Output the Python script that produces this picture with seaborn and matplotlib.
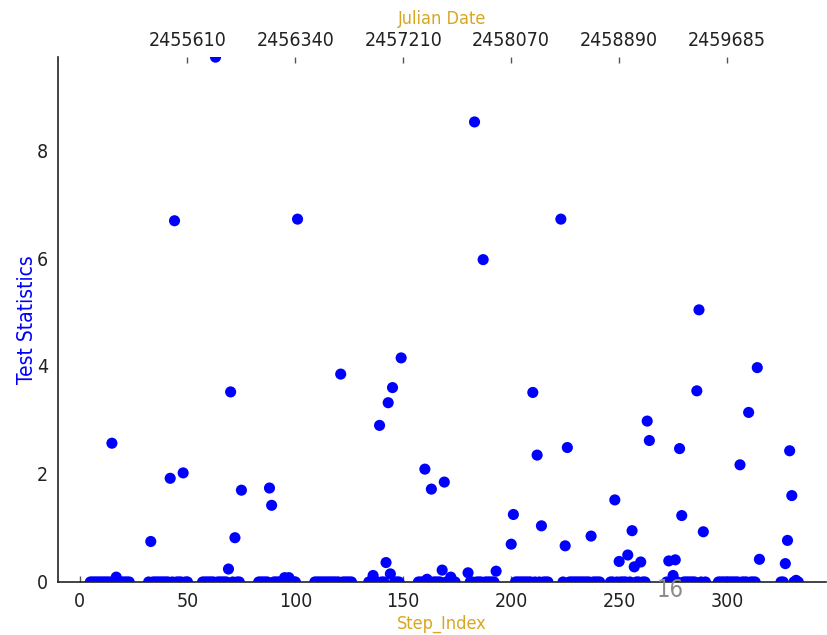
import matplotlib
matplotlib.use("Agg")
import matplotlib.pyplot as plt
import seaborn as sns
import numpy as np
import pandas as pd

# Observation windows (inclusive step ranges) where the statistic was evaluated
window_starts = [5, 32, 57, 83, 109, 134, 157, 180, 200, 223, 246, 272, 296, 325]
window_ends = [23, 50, 75, 101, 126, 149, 174, 193, 217, 241, 264, 290, 315, 333]

# Steps with a non-zero test statistic and their values
event_steps = [15, 17, 33, 42, 44, 48, 63, 69, 70, 72, 75, 88, 89, 95, 97, 101,
               121, 136, 139, 142, 143, 144, 145, 149, 160, 161, 163, 168, 169,
               172, 180, 183, 187, 193, 200, 201, 210, 212, 214, 223, 225, 226,
               237, 248, 250, 254, 256, 257, 260, 263, 264, 273, 275, 276, 278,
               279, 286, 287, 289, 306, 310, 314, 315, 327, 328, 329, 330, 332]
event_values = [2.57, 0.09, 0.75, 1.92, 6.69, 2.02, 9.72, 0.24, 3.52, 0.82, 1.70,
                1.74, 1.42, 0.08, 0.08, 6.72, 3.85, 0.12, 2.90, 0.36, 3.32, 0.15,
                3.60, 4.15, 2.09, 0.05, 1.72, 0.22, 1.85, 0.09, 0.17, 8.52, 5.97,
                0.20, 0.70, 1.25, 3.51, 2.35, 1.04, 6.72, 0.67, 2.49, 0.85, 1.52,
                0.38, 0.50, 0.95, 0.28, 0.37, 2.98, 2.62, 0.39, 0.12, 0.41, 2.47,
                1.23, 3.54, 5.04, 0.93, 2.17, 3.14, 3.97, 0.42, 0.34, 0.77, 2.43,
                1.60, 0.03]

# Top axis: Julian dates at selected step positions
jd_steps = [50, 100, 150, 200, 250, 300]
jd_labels = ["2455610", "2456340", "2457210", "2458070", "2458890", "2459685"]

steps = []
for a, b in zip(window_starts, window_ends):
    steps.extend(range(a, b + 1))
stat = dict.fromkeys(steps, 0.0)
stat.update(dict(zip(event_steps, event_values)))
df = pd.DataFrame({"Step_Index": list(stat.keys()),
                   "Test Statistics": list(stat.values())}).sort_values("Step_Index")

sns.set_style("white")
plt.rcParams["font.family"] = ["DejaVu Sans"]
plt.rcParams["font.stretch"] = "condensed"

fig = plt.figure(figsize=(8.28, 6.35), dpi=100)
ax = fig.add_axes([0.070, 0.0835, 0.928, 0.8265])

sns.scatterplot(data=df, x="Step_Index", y="Test Statistics", ax=ax,
                color="blue", s=64, edgecolor="none", linewidth=0)

ax.set_xlim(-10, 346)
ax.set_ylim(0, max(event_values))
ax.set_xticks([0, 50, 100, 150, 200, 250, 300])
ax.set_yticks([0, 2, 4, 6, 8])
for side in ("top", "right"):
    ax.spines[side].set_visible(False)
for side in ("left", "bottom"):
    ax.spines[side].set_color("#222222")
    ax.spines[side].set_linewidth(1.2)
ax.tick_params(axis="both", direction="in", length=4, width=1, colors="#555555",
               labelcolor="#222222", labelsize=14, pad=7)

ax.set_xlabel("Step_Index", color="#DAA520", fontsize=13, labelpad=3)
ax.set_ylabel("Test Statistics", color="blue", fontsize=15, labelpad=0)

ax2 = ax.twiny()
ax2.set_xlim(ax.get_xlim())
ax2.set_xticks(jd_steps)
ax2.set_xticklabels(jd_labels)
for side in ("top", "right", "left", "bottom"):
    ax2.spines[side].set_visible(False)
ax2.tick_params(axis="x", direction="in", length=4, width=1, colors="#555555",
                labelcolor="#222222", labelsize=14, pad=5)
ax2.set_xlabel("Julian Date", color="#DAA520", fontsize=13, labelpad=5)

fig.text(670 / 828, 1 - 590 / 635, "16", color="#8c8c8c", fontsize=17,
         ha="center", va="center")

fig.savefig("out.png", dpi=100)
